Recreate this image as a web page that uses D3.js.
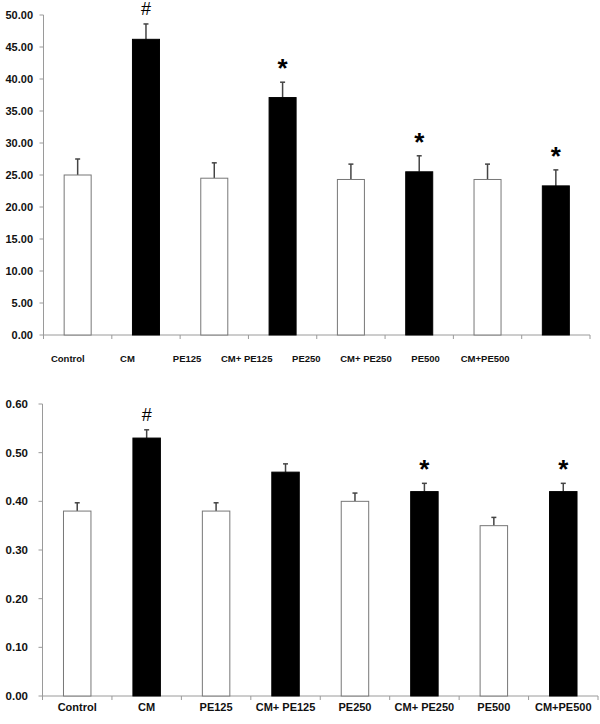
<!DOCTYPE html>
<html>
<head>
<meta charset="utf-8">
<script src="https://cdn.jsdelivr.net/npm/d3@7"></script>
<style>
  html, body { margin: 0; padding: 0; background: #fff; }
  svg { display: block; }
  text { font-family: Arial, "Liberation Sans", sans-serif; font-weight: bold; fill: #111; }
</style>
</head>
<body>
<svg id="chart" width="600" height="724"></svg>
<script>
const categories = ["Control", "CM", "PE125", "CM+ PE125", "PE250", "CM+ PE250", "PE500", "CM+PE500"];
const filled = [false, true, false, true, false, true, false, true];

// Top panel
const topValues = [25.0, 46.2, 24.5, 37.1, 24.3, 25.5, 24.3, 23.3];
const topErrors = [2.5, 2.4, 2.4, 2.4, 2.4, 2.5, 2.4, 2.5];
const topMarks  = ["", "#", "", "*", "", "*", "", "*"];
const topTicks  = [0, 5, 10, 15, 20, 25, 30, 35, 40, 45, 50];

// Bottom panel
const botValues = [0.38, 0.53, 0.38, 0.46, 0.40, 0.42, 0.35, 0.42];
const botErrors = [0.017, 0.017, 0.017, 0.017, 0.017, 0.017, 0.017, 0.017];
const botMarks  = ["", "#", "", "", "", "*", "", "*"];
const botTicks  = [0, 0.1, 0.2, 0.3, 0.4, 0.5, 0.6];

const svg = d3.select("#chart");

function panel(cfg) {
  const g = svg.append("g");
  const x = d3.scaleBand().domain(categories).range([cfg.x0, cfg.x1]).paddingInner(0.59).paddingOuter(0.295);
  const xb = d3.scaleBand().domain(categories).range([cfg.x0, cfg.x1]);
  const y = d3.scaleLinear().domain([0, cfg.max]).range([cfg.y0, cfg.y1]);
  const lx = d3.scaleBand().domain(categories).range([cfg.l0, cfg.l1]);

  // y axis
  g.append("line").attr("x1", cfg.x0).attr("x2", cfg.x0).attr("y1", y(cfg.max)).attr("y2", cfg.y0 + 4)
    .attr("stroke", "#9a9a9a").attr("stroke-width", 1);
  cfg.ticks.forEach(t => {
    g.append("line").attr("x1", cfg.x0 - 4).attr("x2", cfg.x0).attr("y1", y(t)).attr("y2", y(t))
      .attr("stroke", "#9a9a9a");
    g.append("text").attr("x", cfg.labelRight).attr("y", y(t)).attr("dy", "0.35em")
      .attr("text-anchor", "end").attr("font-size", cfg.yfs).text(d3.format(".2f")(t));
  });
  // x axis
  g.append("line").attr("x1", cfg.x0).attr("x2", cfg.x1).attr("y1", cfg.y0).attr("y2", cfg.y0)
    .attr("stroke", "#9a9a9a");
  categories.forEach((c, i) => {
    const xe = xb(c) + xb.bandwidth();
    g.append("line").attr("x1", xe).attr("x2", xe).attr("y1", cfg.y0).attr("y2", cfg.y0 + 4)
      .attr("stroke", "#9a9a9a");
  });

  // bars
  categories.forEach((c, i) => {
    const v = cfg.values[i], e = cfg.errors[i];
    const cx = x(c) + x.bandwidth() / 2;
    // error bar
    g.append("line").attr("x1", cx).attr("x2", cx).attr("y1", y(v)).attr("y2", y(v + e))
      .attr("stroke", "#444").attr("stroke-width", 1.5);
    g.append("line").attr("x1", cx - 2.5).attr("x2", cx + 2.5).attr("y1", y(v + e)).attr("y2", y(v + e))
      .attr("stroke", "#444").attr("stroke-width", 1.5);
    g.append("rect").attr("x", x(c) + 0.5).attr("y", y(v)).attr("width", x.bandwidth() - 1)
      .attr("height", cfg.y0 - y(v))
      .attr("fill", filled[i] ? "#000" : "#fff")
      .attr("stroke", filled[i] ? "#000" : "#777").attr("stroke-width", 1);
    if (cfg.marks[i]) {
      const isHash = cfg.marks[i] === "#";
      if (isHash) {
        g.append("text").attr("x", cx).attr("y", y(v + e) - 9)
          .attr("text-anchor", "middle").attr("font-size", 18)
          .style("font-weight", "normal").style("fill", "#000")
          .text("#");
      } else {
        g.append("text").attr("x", cx).attr("y", y(v + e) - 5)
          .attr("text-anchor", "middle").attr("font-size", 26)
          .style("fill", "#000")
          .text("*");
      }
    }
    g.append("text").attr("x", lx(c) + lx.bandwidth() / 2).attr("y", cfg.labelY)
      .attr("text-anchor", "middle").attr("font-size", cfg.xfs).text(c);
  });
}

panel({
  x0: 43.5, x1: 590, y0: 335, y1: 15, max: 50,
  values: topValues, errors: topErrors, marks: topMarks, ticks: topTicks,
  labelRight: 33, yfs: 11, xfs: 9.5, labelY: 362, l0: 38, l1: 515
});
panel({
  x0: 42.5, x1: 598, y0: 696, y1: 404, max: 0.6,
  values: botValues, errors: botErrors, marks: botMarks, ticks: botTicks,
  labelRight: 28, yfs: 11.5, xfs: 11, labelY: 711, l0: 42.5, l1: 598
});
</script>
</body>
</html>
